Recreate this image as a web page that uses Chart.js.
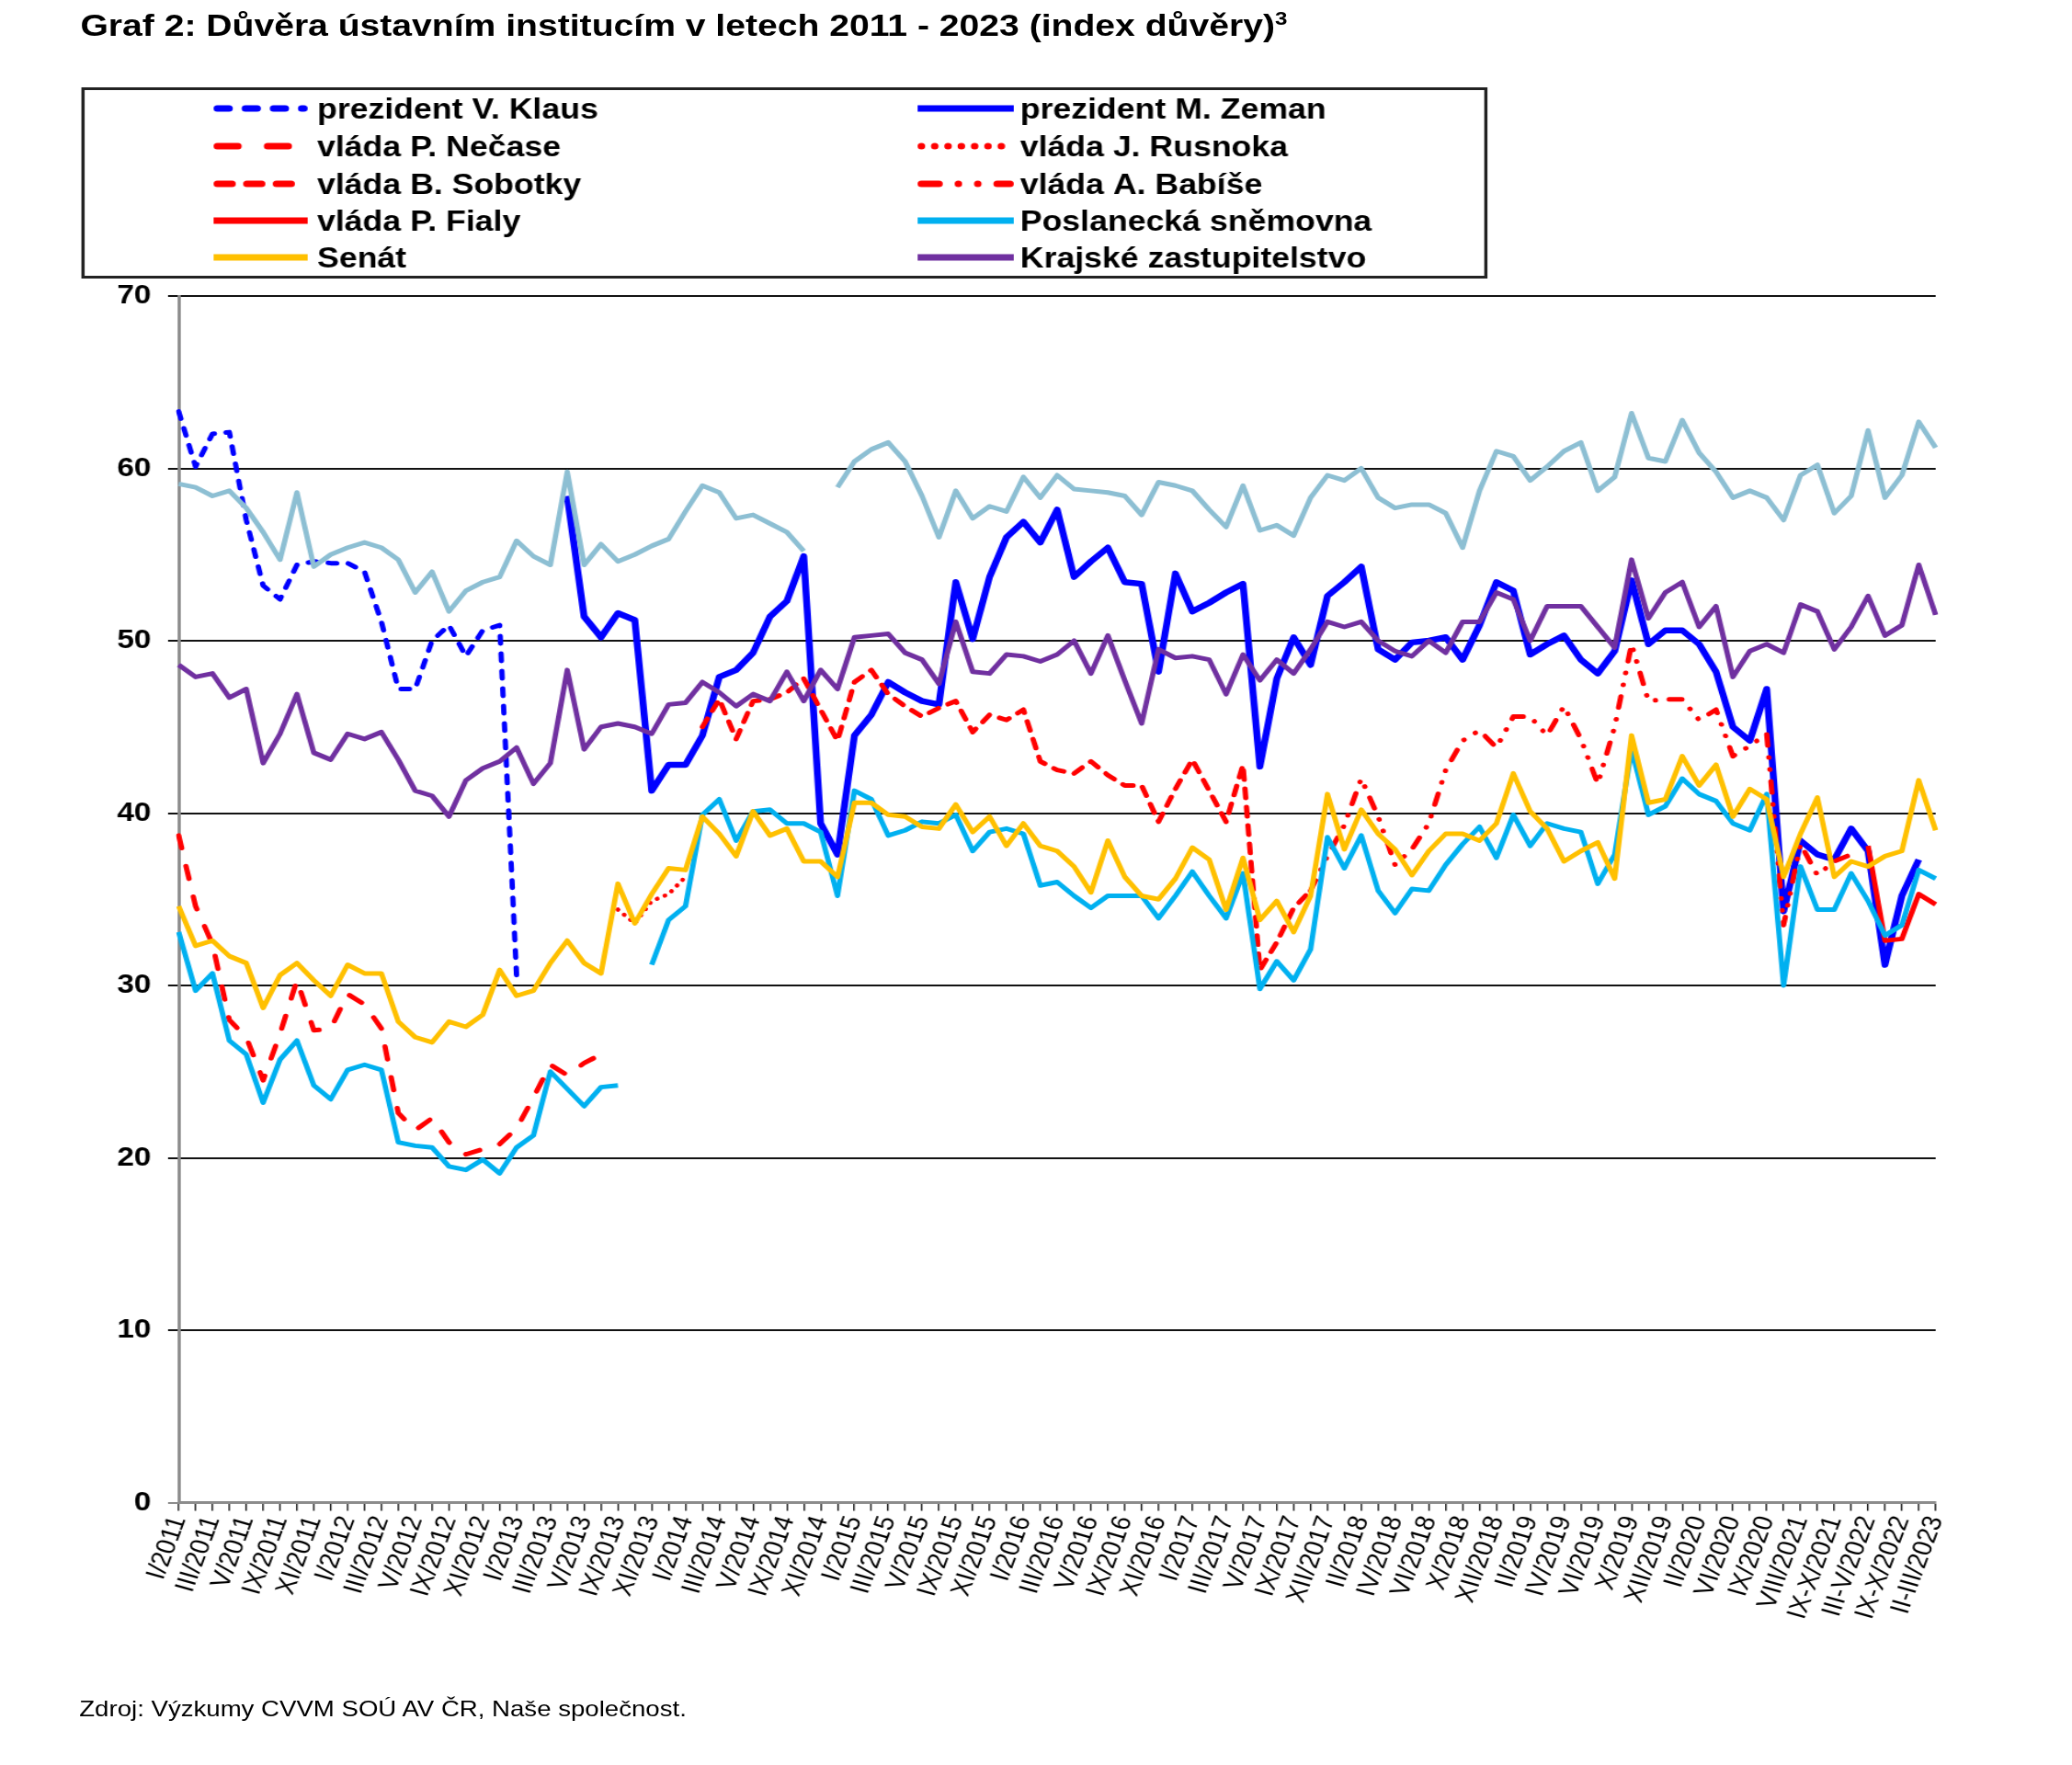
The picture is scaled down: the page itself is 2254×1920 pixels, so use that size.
<!DOCTYPE html>
<html lang="cs">
<head>
<meta charset="utf-8">
<title>Graf 2: Důvěra ústavním institucím</title>
<script src="https://cdn.jsdelivr.net/npm/chart.js@4.4.1/dist/chart.umd.min.js"></script>
<style>
  html, body { margin: 0; padding: 0; background: #fff; overflow: hidden; }
  /* obrazek predlohy je vodorovne roztazeny, proto cele platno natahneme */
  #wrap { position: absolute; left: 0; top: 0; width: 1960px; height: 1920px;
          transform: scaleX(1.15); transform-origin: 0 0;
          font-family: "Liberation Sans", Arial, sans-serif; color: #000; }
  #title { position: absolute; left: 76px; top: 10px; font-size: 34px; font-weight: bold;
           line-height: 34px; white-space: nowrap; }
  #title sup { font-size: 21px; vertical-align: 12px; line-height: 0; }
  #source { position: absolute; left: 75px; top: 1847px; font-size: 24px; line-height: 24px; white-space: nowrap; }
  canvas { position: absolute; left: 0; top: 0; }
</style>
</head>
<body>
<div id="wrap">
  <div id="title">Graf 2: Důvěra ústavním institucím v letech 2011 - 2023 (index důvěry)<sup>3</sup></div>
  <canvas id="graf" width="1960" height="1920"></canvas>
  <div id="source">Zdroj: Výzkumy CVVM SOÚ AV ČR, Naše společnost.</div>
</div>
<script>
// ---------------- kategorie (vlny vyzkumu) ----------------
const mesice = ['I', 'II', 'III', 'IV', 'V', 'VI', 'IX', 'X', 'XI', 'XII'];
const categories = [];
[2011, 2012, 2013, 2014, 2015, 2016].forEach(rok => mesice.forEach(m => categories.push(m + '/' + rok)));
categories.push('I/2017', 'II/2017', 'III/2017', 'IV/2017', 'V/2017', 'VI/2017', 'IX/2017', 'X/2017', 'XII/2017');
[2018, 2019].forEach(rok => mesice.forEach(m => categories.push(m + '/' + rok)));
categories.push('I/2020', 'II/2020', 'III/2020', 'VI/2020', 'VIII/2020', 'IX/2020', 'X/2020',
  'VIII/2021', 'VIII-IX/2021', 'IX-X/2021', 'XI-XII/2021', 'III-V/2022', 'VI-VII/2022',
  'IX-X/2022', 'XI-XII/2022', 'II-III/2023');

// ---------------- hodnoty (index duvery) ----------------
// prezidenti a vlady maji jen sve obdobi, proto pocatecni index
const klausStart = 0;
const klaus = [63.3, 60.1, 62.0, 62.1, 57.0, 53.2, 52.4, 54.4, 54.6, 54.5,
  54.5, 54.0, 51.1, 47.2, 47.2, 50.0, 50.9, 49.1, 50.6, 50.9,
  30.6];

const zemanStart = 23;
const zeman = [58.4, 51.4, 50.2, 51.6, 51.2, 41.3, 42.8,
  42.8, 44.5, 47.9, 48.3, 49.3, 51.4, 52.3, 54.9, 39.4, 37.6,
  44.5, 45.7, 47.6, 47.0, 46.5, 46.3, 53.4, 50.1, 53.7, 56.0,
  56.9, 55.7, 57.6, 53.7, 54.6, 55.4, 53.4, 53.3, 48.2, 53.9,
  51.7, 52.2, 52.8, 53.3, 42.7, 47.8, 50.2, 48.6, 52.6,
  53.4, 54.3, 49.5, 48.9, 49.9, 50.0, 50.2, 48.9, 50.9, 53.4,
  52.9, 49.2, 49.8, 50.3, 48.9, 48.1, 49.4, 53.5, 49.8, 50.6,
  50.6, 49.8, 48.2, 45.0, 44.2, 47.2, 34.3, 38.4, 37.6, 37.3, 39.1, 37.8, 31.2, 35.2, 37.3];

const necasStart = 0;
const necas = [38.7, 34.6, 32.4, 28.0, 27.0, 24.5, 27.2, 30.3, 27.4, 27.5,
  29.5, 28.9, 27.5, 22.6, 21.6, 22.3, 20.9, 20.2, 20.5, 20.8,
  21.7, 23.5, 25.4, 24.8, 25.5, 26.0];

const rusnokStart = 26;
const rusnok = [34.4, 33.6, 34.9, 35.3, 36.3];

const sobotkaStart = 31;
const sobotka = [45.0, 46.6, 44.3, 46.5, 46.6, 47.0, 47.8, 46.0, 44.2,
  47.6, 48.3, 46.9, 46.2, 45.6, 46.1, 46.5, 44.7, 45.7, 45.4,
  46.0, 43.0, 42.5, 42.3, 43.0, 42.2, 41.6, 41.6, 39.5, 41.4,
  43.1, 41.3, 39.5, 42.8, 30.9, 32.5, 34.5, 35.5];

const babisStart = 67;
const babis = [35.5, 37.5,
  39.3, 42.0, 39.8, 37.0, 37.9, 39.4, 42.5, 44.2, 44.8, 43.8,
  45.6, 45.6, 44.5, 46.2, 44.3, 41.7, 45.0, 49.8, 46.5, 46.6,
  46.6, 45.4, 46.0, 43.3, 43.9, 44.6, 33.5, 38.2, 36.4, 37.2, 37.6];

const fialaStart = 100;
const fiala = [38.1, 32.6, 32.7, 35.3, 34.7];

const snemovna = [33.1, 29.7, 30.7, 26.8, 26.0, 23.2, 25.7, 26.8, 24.2, 23.4,
  25.1, 25.4, 25.1, 20.9, 20.7, 20.6, 19.5, 19.3, 19.9, 19.1,
  20.6, 21.3, 25.0, 24.0, 23.0, 24.1, 24.2, null, 31.2, 33.8,
  34.6, 39.9, 40.8, 38.4, 40.1, 40.2, 39.4, 39.4, 38.9, 35.2,
  41.3, 40.8, 38.7, 39.0, 39.5, 39.4, 39.9, 37.8, 38.9, 39.1,
  38.8, 35.8, 36.0, 35.2, 34.5, 35.2, 35.2, 35.2, 33.9, 35.2,
  36.6, 35.2, 33.9, 36.5, 29.8, 31.4, 30.3, 32.1, 38.6,
  36.8, 38.7, 35.5, 34.2, 35.6, 35.5, 37.0, 38.2, 39.2, 37.4,
  39.9, 38.1, 39.4, 39.1, 38.9, 35.9, 37.6, 43.7, 39.9, 40.4,
  42.0, 41.1, 40.7, 39.4, 39.0, 41.1, 30.0, 36.9, 34.4, 34.4, 36.5, 34.9, 32.9, 33.5, 36.7, 36.2];

const senat = [34.6, 32.3, 32.6, 31.7, 31.3, 28.7, 30.6, 31.3, 30.3, 29.4,
  31.2, 30.7, 30.7, 27.9, 27.0, 26.7, 27.9, 27.6, 28.3, 30.9,
  29.4, 29.7, 31.3, 32.6, 31.3, 30.7, 35.9, 33.6, 35.3, 36.8,
  36.7, 39.8, 38.8, 37.5, 40.1, 38.7, 39.1, 37.2, 37.2, 36.3,
  40.6, 40.6, 39.9, 39.8, 39.2, 39.1, 40.5, 38.9, 39.8, 38.1,
  39.4, 38.1, 37.8, 36.9, 35.4, 38.4, 36.3, 35.2, 35.0, 36.2,
  38.0, 37.3, 34.4, 37.4, 33.8, 34.9, 33.1, 35.2, 41.1,
  37.9, 40.2, 38.8, 37.9, 36.4, 37.8, 38.8, 38.8, 38.4, 39.4,
  42.3, 40.1, 39.1, 37.2, 37.8, 38.3, 36.2, 44.5, 40.6, 40.8,
  43.3, 41.6, 42.8, 39.8, 41.4, 40.8, 36.3, 38.8, 40.9, 36.3, 37.2, 36.9, 37.5, 37.8, 41.9, 39.0];

const kraj = [48.6, 47.9, 48.1, 46.7, 47.2, 42.9, 44.6, 46.9, 43.5, 43.1,
  44.6, 44.3, 44.7, 43.1, 41.3, 41.0, 39.8, 41.9, 42.6, 43.0,
  43.8, 41.7, 42.9, 48.3, 43.7, 45.0, 45.2, 45.0, 44.6, 46.3,
  46.4, 47.6, 47.0, 46.2, 46.9, 46.5, 48.2, 46.5, 48.3, 47.2,
  50.2, 50.3, 50.4, 49.3, 48.9, 47.5, 51.1, 48.2, 48.1, 49.2,
  49.1, 48.8, 49.2, 50.0, 48.1, 50.3, 47.7, 45.2, 49.5, 49.0,
  49.1, 48.9, 46.9, 49.2, 47.7, 48.9, 48.1, 49.5, 51.1,
  50.8, 51.1, 50.0, 49.4, 49.1, 50.0, 49.3, 51.1, 51.1, 52.8,
  52.4, 50.0, 52.0, 52.0, 52.0, 50.8, 49.6, 54.7, 51.3, 52.8,
  53.4, 50.8, 52.0, 47.9, 49.4, 49.8, 49.3, 52.1, 51.7, 49.5, 50.8, 52.6, 50.3, 50.9, 54.4, 51.5];

// obecni zastupitelstvo - v legende predlohy chybi
const obec = [59.1, 58.9, 58.4, 58.7, 57.7, 56.3, 54.7, 58.6, 54.3, 55.0,
  55.4, 55.7, 55.4, 54.7, 52.8, 54.0, 51.7, 52.9, 53.4, 53.7,
  55.8, 54.9, 54.4, 59.8, 54.4, 55.6, 54.6, 55.0, 55.5, 55.9,
  57.5, 59.0, 58.6, 57.1, 57.3, 56.8, 56.3, 55.2, null, 58.9,
  60.4, 61.1, 61.5, 60.4, 58.4, 56.0, 58.7, 57.1, 57.8, 57.5,
  59.5, 58.3, 59.6, 58.8, 58.7, 58.6, 58.4, 57.3, 59.2, 59.0,
  58.7, 57.6, 56.6, 59.0, 56.4, 56.7, 56.1, 58.3, 59.6,
  59.3, 60.0, 58.3, 57.7, 57.9, 57.9, 57.4, 55.4, 58.7, 61.0,
  60.7, 59.3, 60.1, 61.0, 61.5, 58.7, 59.5, 63.2, 60.6, 60.4,
  62.8, 60.9, 59.8, 58.3, 58.7, 58.3, 57.0, 59.6, 60.2, 57.4, 58.4, 62.2, 58.3, 59.6, 62.7, 61.2];

const yTicks = [0, 10, 20, 30, 40, 50, 60, 70];

// rozlozi hodnoty obdobi na celou osu (mimo obdobi null)
function naOse(start, values) {
  const out = new Array(categories.length).fill(null);
  values.forEach((v, i) => { out[start + i] = v; });
  return out;
}

const FONT = '"Liberation Sans", Arial, sans-serif';

const rady = [
  { label: 'prezident V. Klaus', data: naOse(klausStart, klaus), borderColor: '#0000FF', borderWidth: 5, borderDash: [8, 11], borderCapStyle: 'round' },
  { label: 'prezident M. Zeman', data: naOse(zemanStart, zeman), borderColor: '#0000FF', borderWidth: 6.5 },
  { label: 'vláda P. Nečase', data: naOse(necasStart, necas), borderColor: '#FF0000', borderWidth: 5, borderDash: [14, 20], borderCapStyle: 'round' },
  { label: 'vláda J. Rusnoka', data: naOse(rusnokStart, rusnok), borderColor: '#FF0000', borderWidth: 4.5, borderDash: [0.1, 8], borderCapStyle: 'round' },
  { label: 'vláda B. Sobotky', data: naOse(sobotkaStart, sobotka), borderColor: '#FF0000', borderWidth: 5, borderDash: [10, 10], borderCapStyle: 'round' },
  { label: 'vláda A. Babíše', data: naOse(babisStart, babis), borderColor: '#FF0000', borderWidth: 5, borderDash: [12, 13, 0.1, 13, 0.1, 13], borderCapStyle: 'round' },
  { label: 'vláda P. Fialy', data: naOse(fialaStart, fiala), borderColor: '#FF0000', borderWidth: 5 },
  { label: 'Poslanecká sněmovna', data: snemovna, borderColor: '#00B0F0', borderWidth: 5 },
  { label: 'Senát', data: senat, borderColor: '#FFC000', borderWidth: 5 },
  { label: 'Krajské zastupitelstvo', data: kraj, borderColor: '#7030A0', borderWidth: 5 },
  { label: 'Obecní zastupitelstvo', data: obec, borderColor: '#8DBFD3', borderWidth: 5, skryt: true }
];

// pozdejsi rada se kresli navrch (jako v Excelu)
rady.forEach((r, i) => {
  r.order = rady.length - i;
  r.fill = false;
  r.pointRadius = 0;
  r.pointHoverRadius = 0;
  r.tension = 0;
  r.borderJoinStyle = 'round';
  r.spanGaps = false;
});

// legenda v rameckou, dva sloupce
const legendaPlugin = {
  id: 'legendaVRamecku',
  afterDraw(chart) {
    const ctx = chart.ctx;
    ctx.save();
    ctx.strokeStyle = '#222';
    ctx.lineWidth = 3;
    ctx.setLineDash([]);
    ctx.strokeRect(78.5, 96.5, 1327, 205);

    const sloupce = [{ x1: 202, x2: 291, tx: 300 }, { x1: 868, x2: 959, tx: 965 }];
    const radky = [118, 159, 200, 240, 280];
    ctx.font = 'bold 31px ' + FONT;
    ctx.textBaseline = 'alphabetic';
    let n = 0;
    chart.data.datasets.forEach(ds => {
      if (ds.skryt) return;
      const s = sloupce[n % 2];
      const y = radky[Math.floor(n / 2)];
      const w = 7;
      const k = w / ds.borderWidth;
      const cap = ds.borderCapStyle || 'butt';
      const inset = cap === 'round' ? w / 2 : 0;
      ctx.strokeStyle = ds.borderColor;
      ctx.lineWidth = w;
      ctx.lineCap = cap;
      ctx.setLineDash((ds.borderDash || []).map(d => d * k));
      ctx.beginPath();
      ctx.moveTo(s.x1 + inset, y);
      ctx.lineTo(s.x2 - inset, y);
      ctx.stroke();
      ctx.setLineDash([]);
      ctx.fillStyle = '#000';
      ctx.fillText(ds.label, s.tx, y + 11);
      n++;
    });
    ctx.restore();
  }
};

new Chart(document.getElementById('graf'), {
  type: 'line',
  data: { labels: categories, datasets: rady },
  options: {
    responsive: false,
    animation: false,
    devicePixelRatio: 1,
    layout: { padding: { top: 322, left: 0, right: 129, bottom: 0 } },
    plugins: {
      legend: { display: false },
      title: { display: false },
      tooltip: { enabled: false }
    },
    scales: {
      x: {
        offset: false,
        ticks: {
          autoSkip: false,
          maxRotation: 72,
          minRotation: 72,
          padding: 2,
          color: '#000',
          font: { family: FONT, size: 26 },
          callback: (v, i) => (i % 2 === 0 ? categories[i] : '')
        },
        grid: { drawOnChartArea: false, drawTicks: true, tickLength: 9, color: '#222', lineWidth: 1.5 },
        border: { color: '#8c8c8c', width: 3 },
        afterFit(scale) { scale.height = 285.5; }
      },
      y: {
        min: yTicks[0],
        max: yTicks[yTicks.length - 1],
        afterBuildTicks(scale) { scale.ticks = yTicks.map(v => ({ value: v })); },
        ticks: {
          color: '#000',
          padding: 16,
          font: { family: FONT, size: 29, weight: 'bold' }
        },
        grid: {
          color: c => (c.tick && c.tick.value === 0 ? '#8c8c8c' : '#111'),
          lineWidth: 2,
          tickLength: 10
        },
        border: { color: '#8c8c8c', width: 3 },
        afterFit(scale) { scale.width = 169; }
      }
    }
  },
  plugins: [legendaPlugin]
});
</script>
</body>
</html>
